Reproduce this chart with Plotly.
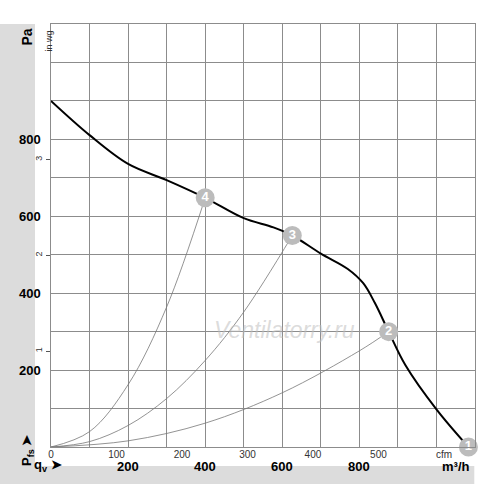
import plotly.graph_objects as go

# fan curve (m3/h, Pa)
fan_q = [0, 100, 200, 300, 400, 500, 577, 626, 700, 770, 810, 840, 876, 920, 1000, 1083]
fan_p = [900, 811, 736, 694, 648, 595, 571, 550, 503, 463, 426, 375, 300, 212, 98, 0]

# system curves from origin to the operating points
sys4_q = [0, 100, 200, 300, 400]
sys4_p = [0, 40, 162, 364, 648]
sys3_q = [0, 100, 200, 300, 400, 500, 626]
sys3_p = [0, 14, 56, 126, 225, 351, 550]
sys2_q = [0, 200, 400, 600, 800, 876]
sys2_p = [0, 16, 62, 141, 250, 300]

# operating points
point_q = [1083, 876, 626, 400]
point_p = [0, 300, 550, 648]
point_lbl = ["1", "2", "3", "4"]

# tick labels
m3h_ticks = [200, 400, 600, 800]
pa_ticks = [200, 400, 600, 800]
cfm_vals = [0, 100, 200, 300, 400, 500, 600]
cfm_text = ["0", "100", "200", "300", "400", "500", "cfm"]
inwg_vals = [1, 2, 3]

Q_MAX = 1100
P_MAX = 1100
CFM = 1.699  # m3/h per cfm
INWG = 249.09  # Pa per in wg

FONT = "Liberation Sans, Arial, sans-serif"
GRID = "#8c8c8c"
BAND = "#dcdcdc"

fig = go.Figure()

for q, p in [(sys4_q, sys4_p), (sys3_q, sys3_p), (sys2_q, sys2_p)]:
    fig.add_trace(go.Scatter(x=q, y=p, mode="lines", line=dict(color="#777777", width=0.8, shape="spline")))
fig.add_trace(go.Scatter(x=fan_q, y=fan_p, mode="lines", line=dict(color="black", width=2, shape="spline", smoothing=1)))
fig.add_trace(
    go.Scatter(
        x=point_q, y=point_p, mode="markers+text", text=point_lbl, textposition="middle center",
        marker=dict(size=19, color="#bcbcbc"),
        textfont=dict(family=FONT, size=13, color="white", weight="bold"),
        cliponaxis=False,
    )
)

# gray L-shaped band (left and bottom), placed in picture pixels
W_PLOT, H_PLOT = 423.7, 423.0
def px(x):
    return (x - 51) / W_PLOT
def py(y):
    return (447 - y) / H_PLOT

fig.add_shape(type="rect", xref="paper", yref="paper", x0=px(0), x1=px(35), y0=py(484), y1=py(24),
              fillcolor=BAND, line_width=0, layer="below")
fig.add_shape(type="rect", xref="paper", yref="paper", x0=px(0), x1=px(474), y0=py(484), y1=py(466),
              fillcolor=BAND, line_width=0, layer="below")

bold = dict(family=FONT, size=13, color="black", weight="bold")

for v in m3h_ticks:
    fig.add_annotation(x=v, xref="x", y=py(476), yref="paper", text=str(v), showarrow=False, font=bold)
for v in pa_ticks:
    fig.add_annotation(x=px(17), xref="paper", y=v, yref="y", text=str(v), showarrow=False, font=bold)

fig.add_annotation(x=px(472), xref="paper", y=py(476), yref="paper", text="m³/h", xanchor="right",
                   showarrow=False, font=bold)
fig.add_annotation(x=px(32), xref="paper", y=py(476), yref="paper", text="q<sub>v</sub> ➤", xanchor="left",
                   showarrow=False, font=dict(family=FONT, size=13, color="black", weight="bold"))
fig.add_annotation(x=px(17), xref="paper", y=py(26), yref="paper", text="Pa", textangle=-90,
                   showarrow=False, font=dict(family=FONT, size=14, color="black", weight="bold"))
fig.add_annotation(x=px(17), xref="paper", y=py(468), yref="paper", text="P<sub>fs</sub> ➤", textangle=-90,
                   showarrow=False, font=dict(family=FONT, size=13, color="black", weight="bold"))
fig.add_annotation(x=px(42), xref="paper", y=py(28), yref="paper", text="in wg", textangle=-90,
                   showarrow=False, font=dict(family=FONT, size=9, color="#333333"))
fig.add_annotation(x=px(357), xref="paper", y=py(345), yref="paper", text="<i>Ventilatorry.ru</i>",
                   showarrow=False, font=dict(family=FONT, size=23, color="rgba(190,190,190,0.55)"))

fig.update_layout(
    width=500,
    height=488,
    margin=dict(l=51, r=25.3, t=24, b=41, autoexpand=False),
    paper_bgcolor="white",
    plot_bgcolor="white",
    showlegend=False,
    font=dict(family=FONT),
    xaxis=dict(
        range=[0, Q_MAX], dtick=100, showgrid=True, gridcolor=GRID, gridwidth=1,
        showticklabels=False, zeroline=False, showline=True, mirror=True, linecolor=GRID, linewidth=1,
    ),
    yaxis=dict(
        range=[0, P_MAX], dtick=100, showgrid=True, gridcolor=GRID, gridwidth=1,
        showticklabels=False, zeroline=False, showline=True, mirror=True, linecolor=GRID, linewidth=1,
    ),
    xaxis2=dict(
        overlaying="x", anchor="y", side="bottom", range=[0, Q_MAX / CFM],
        tickvals=cfm_vals, ticktext=cfm_text, showgrid=False, zeroline=False,
        tickfont=dict(family=FONT, size=10, color="#333333"), ticks="",
    ),
    yaxis2=dict(
        overlaying="y", anchor="x", side="left", range=[0, P_MAX / INWG],
        tickvals=inwg_vals, showgrid=False, zeroline=False, tickangle=-90,
        ticks="outside", ticklen=4, tickcolor="#555555",
        tickfont=dict(family=FONT, size=9, color="#333333"),
    ),
)

# invisible trace so the secondary axes are drawn
fig.add_trace(go.Scatter(x=[0], y=[0], xaxis="x2", yaxis="y2", mode="markers", marker=dict(opacity=0), hoverinfo="skip"))

# the page's default body margin would shift the figure by 8px
fig.write_html("out.html", config={"displayModeBar": False},
               post_script="document.body.style.margin = '0';")
